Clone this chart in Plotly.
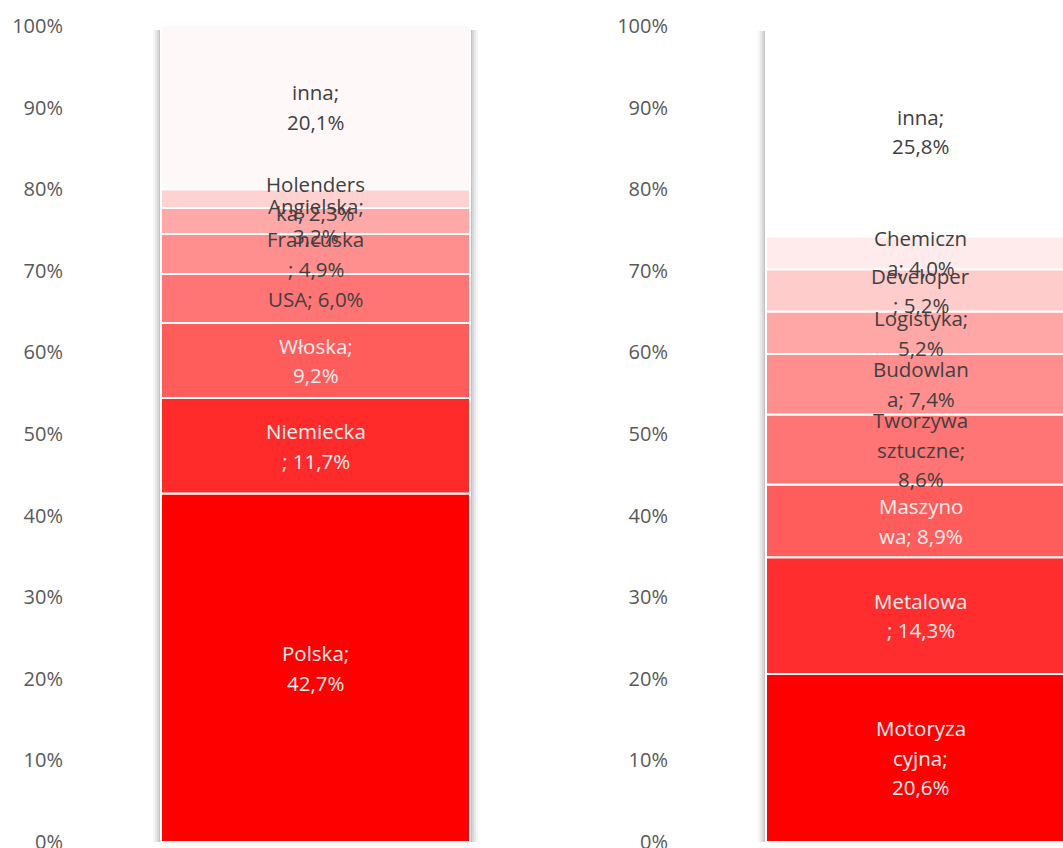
import numpy as np
import plotly.graph_objects as go

# ---- data -------------------------------------------------------------
names_left = ["Polska", "Niemiecka", "Włoska", "USA", "Francuska",
              "Angielska", "Holenderska", "inna"]
values_left = [42.7, 11.7, 9.2, 6.0, 4.9, 3.2, 2.3, 20.1]
cuts_left = [[7], [9], [7], [], [9], [10], [9], [5]]

names_right = ["Motoryzacyjna", "Metalowa", "Maszynowa", "Tworzywa sztuczne",
               "Budowlana", "Logistyka", "Developer", "Chemiczna", "inna"]
values_right = [20.6, 14.3, 8.9, 8.6, 7.4, 5.2, 5.2, 4.0, 25.8]
cuts_right = [[8, 14], [8], [7], [8, 18], [8], [10], [9], [8], [5]]

tick_values = list(range(0, 101, 10))
tick_labels = [f"{t}%" for t in tick_values]

# ---- styling ----------------------------------------------------------
colors_left = ["#FF0000", "#FF2B2B", "#FF5C5C", "#FF7575", "#FF8E8E",
               "#FFA8A8", "#FFD2D2", "#FFF8F8"]
colors_right = ["#FF0000", "#FF2D2D", "#FF5C5C", "#FF7575", "#FF8F8F",
                "#FFA6A6", "#FFCCCC", "#FFEBEB", "#FFFFFF"]
light_text = "#FFF0F0"
dark_text = "#404040"
FONT = "Open Sans"
W, H = 1063, 848
BAR_PX = 309          # on-screen bar width
LINE_PX = 29.5        # label line spacing


def fmt(v):
    return f"{v:.1f}".replace(".", ",") + "%"


def wrap(text, cuts):
    parts, prev = [], 0
    for c in cuts + [len(text)]:
        parts.append(text[prev:c].strip())
        prev = c
    return parts


fig = go.Figure()


def add_panel(names, values, cuts, colors, xref, yref):
    vals = np.array(values)
    bases = np.concatenate([[0], np.cumsum(vals)[:-1]])
    total = vals.sum()
    # soft drop shadow behind the column
    for k, a in [(8, 0.04), (6, 0.05), (4, 0.07), (2, 0.09)]:
        fig.add_trace(go.Bar(
            x=[0], y=[total], base=[-0.6], width=[1 + 2 * k / BAR_PX],
            marker=dict(color=f"rgba(0,0,0,{a})", line=dict(width=0)),
            xaxis=xref, yaxis=yref, hoverinfo="skip", showlegend=False))
    for i, (n, v, b, c) in enumerate(zip(names, vals, bases, colors)):
        fig.add_trace(go.Bar(
            x=[0], y=[v], base=[b], width=[1], name=n,
            marker=dict(color=c, line=dict(color="white", width=2)),
            xaxis=xref, yaxis=yref, hoverinfo="skip", showlegend=False))
        lines = wrap(f"{n}; {fmt(v)}", cuts[i])
        center = b + v / 2
        tcol = light_text if i < 3 else dark_text
        for j, line in enumerate(lines):
            off = ((len(lines) - 1) / 2 - j) * LINE_PX
            fig.add_annotation(
                x=0, y=center, xref=xref.replace("axis", ""),
                yref=yref.replace("axis", ""), text=line, showarrow=False,
                yshift=off, font=dict(family=FONT, size=20.5, color=tcol))


add_panel(names_left, values_left, cuts_left, colors_left, "x", "y")
add_panel(names_right, values_right, cuts_right, colors_right, "x2", "y2")

# axis placement (pixels -> paper fractions)
left_dom = (64, 566)
right_dom = (669, 1063)
left_center = 315.5
right_center = 920.5


def xrange_for(dom, center):
    lo = -(center - dom[0]) / BAR_PX
    return [lo, lo + (dom[1] - dom[0]) / BAR_PX]


yax = dict(range=[0, 100], tickmode="array", tickvals=tick_values,
           ticktext=tick_labels, ticklabeloverflow="allow",
           showgrid=False, zeroline=False, showline=False, ticks="",
           tickfont=dict(family=FONT, size=20, color="#595959"),
           automargin=False)
xax = dict(showgrid=False, zeroline=False, showline=False,
           showticklabels=False, automargin=False)

fig.update_layout(
    width=W, height=H, barmode="overlay",
    paper_bgcolor="white", plot_bgcolor="white",
    margin=dict(l=0, r=0, t=26, b=6),
    xaxis=dict(domain=[left_dom[0] / W, left_dom[1] / W],
               range=xrange_for(left_dom, left_center), **xax),
    xaxis2=dict(domain=[right_dom[0] / W, right_dom[1] / W],
                range=xrange_for(right_dom, right_center), **xax),
    yaxis=dict(anchor="x", **yax),
    yaxis2=dict(anchor="x2", **yax),
    showlegend=False,
)

fig.write_html("out.html", config={"displayModeBar": False})
